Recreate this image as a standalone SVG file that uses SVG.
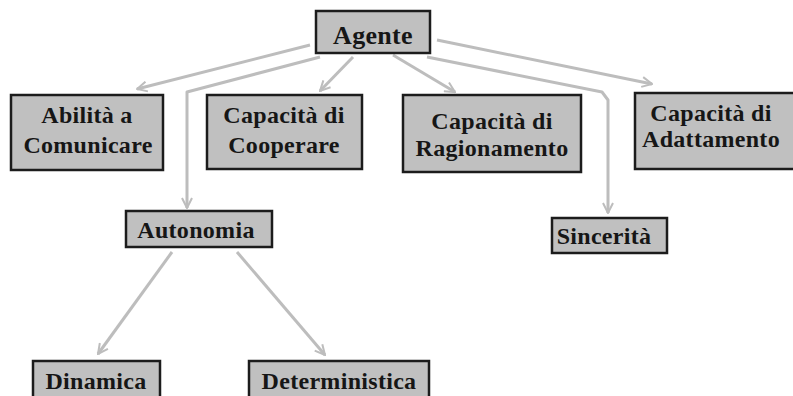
<svg xmlns="http://www.w3.org/2000/svg" width="793" height="396" viewBox="0 0 793 396">
  <defs>
    <marker id="chev" viewBox="0 0 12 12" refX="11" refY="6" markerWidth="12" markerHeight="12" markerUnits="userSpaceOnUse" orient="auto">
      <path d="M1,1 L11,6 L1,11" fill="none" stroke="#bdbdbd" stroke-width="2"/>
    </marker>
  </defs>
  <style>
    .box { fill: #c0c0c0; stroke: #1c1c1c; stroke-width: 2.5; }
    .lbl { font-family: "Liberation Serif", "Times New Roman", serif; font-weight: bold; font-size: 24px; letter-spacing: 0.3px; fill: #161616; text-anchor: middle; }
    .edge { fill: none; stroke: #bdbdbd; stroke-width: 3; stroke-linejoin: round; marker-end: url(#chev); }
  </style>
  <rect width="793" height="396" fill="#ffffff"/>

  <g id="connectors">
    <path class="edge" d="M310,45 L137,89"/>
    <path class="edge" d="M320,57 L187,92 L187,208"/>
    <path class="edge" d="M353,57 L320,91"/>
    <path class="edge" d="M393,55 L455,92"/>
    <path class="edge" d="M427,57 L602,92 L608,100 L608,213"/>
    <path class="edge" d="M437,40 L652,84"/>
    <path class="edge" d="M172,252 L98,354"/>
    <path class="edge" d="M237,252 L325,355"/>
  </g>

  <g id="agente">
    <rect class="box" x="316" y="11" width="114" height="42"/>
    <text class="lbl" x="373" y="44" style="font-size:26px">Agente</text>
  </g>
  <g id="abilita-comunicare">
    <rect class="box" x="11" y="95" width="152" height="75"/>
    <text class="lbl" x="87" y="123">Abilità a</text>
    <text class="lbl" x="88" y="153">Comunicare</text>
  </g>
  <g id="capacita-cooperare">
    <rect class="box" x="207" y="95" width="155" height="74"/>
    <text class="lbl" x="284" y="123">Capacità di</text>
    <text class="lbl" x="284" y="153">Cooperare</text>
  </g>
  <g id="capacita-ragionamento">
    <rect class="box" x="403" y="95" width="178" height="77"/>
    <text class="lbl" x="492" y="129">Capacità di</text>
    <text class="lbl" x="492" y="156">Ragionamento</text>
  </g>
  <g id="capacita-adattamento">
    <rect class="box" x="635" y="93" width="160" height="76"/>
    <text class="lbl" x="711" y="121">Capacità di</text>
    <text class="lbl" x="711" y="147">Adattamento</text>
  </g>
  <g id="autonomia">
    <rect class="box" x="126" y="211" width="146" height="36"/>
    <text class="lbl" x="196" y="238">Autonomia</text>
  </g>
  <g id="sincerita">
    <rect class="box" x="552" y="218" width="115" height="35"/>
    <text class="lbl" x="604" y="244">Sincerità</text>
  </g>
  <g id="dinamica">
    <rect class="box" x="33" y="361" width="127" height="40"/>
    <text class="lbl" x="96" y="389">Dinamica</text>
  </g>
  <g id="deterministica">
    <rect class="box" x="249" y="361" width="180" height="40"/>
    <text class="lbl" x="339" y="389">Deterministica</text>
  </g>
</svg>
